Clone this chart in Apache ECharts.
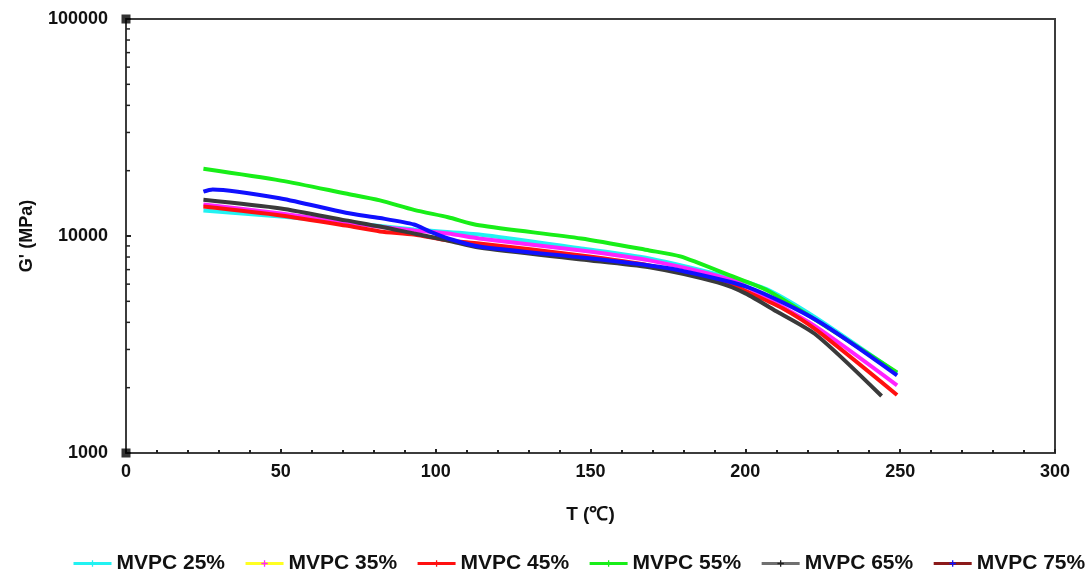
<!DOCTYPE html>
<html>
<head>
<meta charset="utf-8">
<script src="https://cdn.jsdelivr.net/npm/echarts@6/dist/echarts.min.js"></script>
<style>html,body{margin:0;padding:0;background:#fff;}#c{width:1091px;height:571px;}</style>
</head>
<body>
<div id="c"></div>
<script>
// ---- data ----
const seriesNames = ['MVPC 25%', 'MVPC 35%', 'MVPC 45%', 'MVPC 55%', 'MVPC 65%', 'MVPC 75%'];

const T25 = [25, 50, 71, 93, 114, 147, 169, 196, 207, 223, 249];
const G25 = [13100, 12290, 11530, 10710, 10160, 8760, 7880, 6380, 5680, 4180, 2330];

const T35 = [25, 50, 71, 93, 104, 114, 147, 169, 196, 207, 223, 249];
const G35 = [13960, 12690, 11530, 10600, 10270, 9740, 8580, 7720, 6240, 5160, 3800, 2050];

const T45 = [25, 50, 71, 82, 93, 104, 114, 147, 169, 196, 201, 212, 223, 249];
const G45 = [13660, 12430, 11170, 10500, 10160, 9540, 9240, 8140, 7320, 5920, 5500, 4640, 3680, 1850];

const T55 = [25, 50, 71, 82, 93, 104, 114, 147, 169, 179, 195, 207, 227, 249];
const G55 = [20400, 18000, 15700, 14600, 13200, 12200, 11200, 9740, 8580, 8050, 6580, 5620, 3750, 2350];

const T65 = [25, 50, 71, 82, 93, 104, 114, 147, 169, 191, 200, 210, 223, 244];
const G65 = [14700, 13400, 11800, 11060, 10270, 9540, 8850, 7800, 7170, 6110, 5440, 4500, 3490, 1830];

const T75 = [25, 28, 50, 71, 82, 93, 98, 104, 114, 147, 169, 179, 201, 223, 249];
const G75 = [16000, 16400, 14900, 12800, 12100, 11300, 10500, 9740, 8950, 7960, 7320, 6940, 5800, 4090, 2280];

const xTicks = [0, 50, 100, 150, 200, 250, 300];
const yTicks = [1000, 10000, 100000];
const yMinorTicks = [2000, 3000, 4000, 5000, 6000, 7000, 8000, 9000,
                     20000, 30000, 40000, 50000, 60000, 70000, 80000, 90000];
const cornerPoints = [[0, 1000], [0, 100000]];

// ---- styling ----
const plotColors   = ['#22f2f2', '#ff22ff', '#ff1010', '#18ee18', '#3a3a3a', '#1010ff'];
const legendLine   = ['#22f2f2', '#ffff22', '#ff1010', '#18ee18', '#707070', '#8b1a1a'];
const legendMarker = ['#22f2f2', '#ff22ff', '#ff1010', '#18ee18', '#202020', '#1010ff'];
const crossPath = 'path://M4,0H6V4H10V6H6V10H4V6H0V4H4Z';
const FONT = '"Liberation Sans", Arial, sans-serif';

const Ts = [T25, T35, T45, T55, T65, T75];
const Gs = [G25, G35, G45, G55, G65, G75];

function zip(t, g) { return t.map((v, i) => [v, g[i]]); }

const lineSeries = seriesNames.map((name, i) => ({
  name: name,
  type: 'line',
  data: zip(Ts[i], Gs[i]),
  showSymbol: false,
  symbol: crossPath,
  symbolSize: 7,
  smooth: 0.25,
  lineStyle: { color: plotColors[i], width: 4 },
  itemStyle: { color: legendMarker[i] },
  z: 2 + i,
  animation: false
}));

const chart = echarts.init(document.getElementById('c'), null, { renderer: 'canvas' });

chart.setOption({
  animation: false,
  backgroundColor: '#fff',
  grid: {
    left: 126, right: 36, top: 19, bottom: 118,
    show: true, borderColor: '#3c3c3c', borderWidth: 2
  },
  legend: {
    left: 72, top: 553, padding: 0,
    itemWidth: 38, itemHeight: 8, itemGap: 19,
    textStyle: { fontFamily: FONT, fontSize: 21, fontWeight: 'bold', color: '#111' },
    data: seriesNames.map((n, i) => ({
      name: n,
      itemStyle: { color: legendMarker[i] },
      lineStyle: { color: legendLine[i], width: 3 }
    }))
  },
  xAxis: {
    type: 'value', min: 0, max: 300, interval: 50,
    name: 'T (℃)', nameLocation: 'middle', nameGap: 52,
    nameTextStyle: { fontFamily: FONT, fontSize: 19, fontWeight: 'bold', color: '#111' },
    axisLine: { show: true, onZero: false, lineStyle: { color: '#3c3c3c', width: 2 } },
    axisTick: { show: true, inside: true, length: 4, lineStyle: { color: '#222', width: 2 } },
    minorTick: { show: true, splitNumber: 5, length: 3, lineStyle: { color: '#222', width: 2 } },
    splitLine: { show: false },
    axisLabel: { fontFamily: FONT, fontSize: 18, fontWeight: 'bold', color: '#111', margin: 10,
                 formatter: v => xTicks.indexOf(v) >= 0 ? String(v) : '' }
  },
  yAxis: {
    type: 'log', logBase: 10, min: 1000, max: 100000,
    name: "G' (MPa)", nameLocation: 'middle', nameGap: 90,
    nameTextStyle: { fontFamily: FONT, fontSize: 18, fontWeight: 'bold', color: '#111' },
    axisLine: { show: true, onZero: false, lineStyle: { color: '#3c3c3c', width: 2 } },
    axisTick: { show: true, inside: true, length: 5, lineStyle: { color: '#222', width: 2 } },
    splitLine: { show: false },
    axisLabel: { fontFamily: FONT, fontSize: 18, fontWeight: 'bold', color: '#111', margin: 18,
                 formatter: v => yTicks.indexOf(Math.round(v)) >= 0 ? String(Math.round(v)) : '' }
  },
  series: lineSeries.concat([
    {
      name: 'yMinor',
      type: 'custom',
      silent: true,
      data: yMinorTicks.map(v => [0, v]),
      renderItem: function (params, api) {
        const p = api.coord([api.value(0), api.value(1)]);
        return { type: 'line', shape: { x1: p[0], y1: p[1], x2: p[0] + 4, y2: p[1] },
                 style: { stroke: '#222', lineWidth: 1.5 } };
      },
      z: 10
    },
    {
      name: 'corner',
      type: 'scatter',
      silent: true,
      data: cornerPoints,
      symbol: 'rect',
      symbolSize: 9,
      itemStyle: { color: '#000' },
      z: 20
    }
  ])
});
</script>
</body>
</html>
